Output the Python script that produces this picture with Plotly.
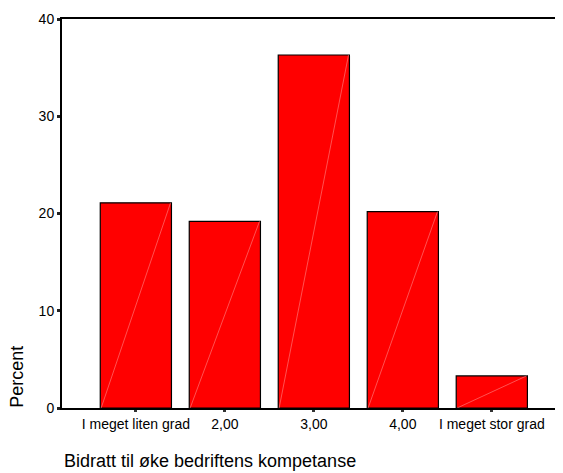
import plotly.graph_objects as go

categories = ["I meget liten grad", "2,00", "3,00", "4,00", "I meget stor grad"]
percent = [21.1, 19.2, 36.3, 20.2, 3.3]
y_ticks = [0, 10, 20, 30, 40]

bar_width = 0.8
xs = list(range(len(categories)))

fig = go.Figure()
fig.add_trace(go.Bar(
    x=xs, y=percent, width=bar_width,
    marker=dict(color="#ff0000", line=dict(color="black", width=1.2)),
    showlegend=False, hoverinfo="skip",
))

# diagonal highlight line in each bar (bottom-left to top-right)
dx, dy = [], []
for i, v in zip(xs, percent):
    dx += [i - bar_width / 2 + 0.01, i + bar_width / 2 - 0.01, None]
    dy += [0, v, None]
fig.add_trace(go.Scatter(
    x=dx, y=dy, mode="lines",
    line=dict(color="rgba(255,160,160,0.85)", width=0.6),
    showlegend=False, hoverinfo="skip",
))

fig.update_layout(
    width=555, height=465,
    margin=dict(l=54, r=0, t=11, b=65),
    paper_bgcolor="white", plot_bgcolor="white",
    font=dict(family="Liberation Sans, Arial, sans-serif", color="black", size=14),
    xaxis=dict(
        range=[-0.83, 4.8],
        tickmode="array", tickvals=xs, ticktext=categories,
        showline=True, linecolor="black", linewidth=2, mirror=True,
        ticks="outside", ticklen=2, tickwidth=3, tickcolor="#333",
        showgrid=False, zeroline=False,
        tickfont=dict(size=14),
    ),
    yaxis=dict(
        range=[0, 40],
        tickmode="array", tickvals=y_ticks,
        showline=True, linecolor="black", linewidth=2,
        ticks="outside", ticklen=3, tickwidth=3, tickcolor="#222",
        showgrid=False, zeroline=False,
        tickfont=dict(size=14),
    ),
    annotations=[
        dict(text="Percent", xref="paper", yref="paper", x=-0.09, y=-0.005,
             xanchor="center", yanchor="bottom", textangle=-90, showarrow=False,
             font=dict(size=18)),
        dict(text="Bidratt til øke bedriftens kompetanse", xref="paper", yref="paper",
             x=0.0, y=-0.135, xanchor="left", yanchor="middle", showarrow=False,
             font=dict(size=18)),
    ],
)

fig.write_html("out.html")
